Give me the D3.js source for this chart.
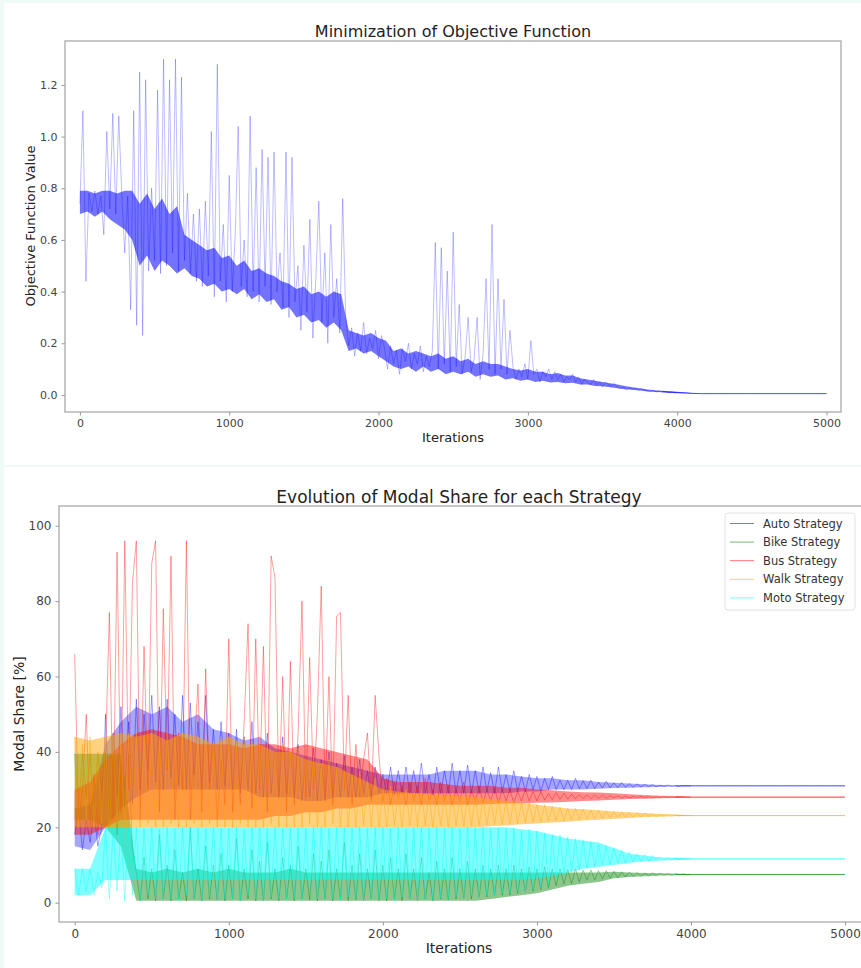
<!DOCTYPE html>
<html>
<head>
<meta charset="utf-8">
<script src="https://cdn.jsdelivr.net/npm/d3@7"></script>
<style>
  body { margin: 0; background: #f0fbf8; }
  svg { display: block; font-family: "DejaVu Sans", sans-serif; }
</style>
</head>
<body>
<svg width="861" height="968"></svg>
<script>
// ---- data ----
var objStep = 20;        // objective trace, one value every 20 iterations (0..4000)
var objBandStep = 50;    // objective dense core, every 50 iterations (0..5000)
var shareStep = 25;      // modal share traces, one value every 25 iterations (0..4000)
var shareBandStep = 100; // modal share dense envelopes, every 100 iterations (0..5000)

var objective = [
  0.74,1.10,0.44,0.78,0.71,0.79,0.70,0.77,0.62,1.02,
  0.72,1.09,0.70,1.08,0.78,0.55,0.77,0.33,1.10,0.27,
  1.25,0.23,1.22,0.48,0.80,0.52,1.18,0.47,1.30,0.50,
  1.22,0.55,1.30,0.48,1.23,0.52,0.78,0.47,0.70,0.44,
  0.72,0.42,0.75,0.46,1.02,0.38,1.28,0.44,0.66,0.36,
  0.85,0.40,0.62,1.04,0.42,0.60,0.38,1.08,0.40,0.88,
  0.36,0.95,0.42,0.92,0.35,0.94,0.40,0.55,0.34,0.94,
  0.30,0.92,0.36,0.50,0.25,0.58,0.32,0.68,0.22,0.45,
  0.75,0.28,0.55,0.20,0.66,0.30,0.45,0.24,0.76,0.30,
  0.19,0.26,0.15,0.24,0.17,0.28,0.16,0.22,0.18,0.25,
  0.14,0.23,0.18,0.10,0.19,0.12,0.17,0.08,0.18,0.13,
  0.20,0.10,0.16,0.12,0.19,0.09,0.15,0.11,0.17,0.59,
  0.10,0.57,0.12,0.48,0.09,0.63,0.11,0.35,0.08,0.15,
  0.30,0.09,0.14,0.30,0.06,0.16,0.45,0.10,0.66,0.08,
  0.45,0.10,0.37,0.08,0.25,0.11,0.06,0.10,0.07,0.12,
  0.06,0.21,0.08,0.10,0.05,0.09,0.07,0.10,0.06,0.09,
  0.06,0.08,0.05,0.07,0.06,0.08,0.05,0.07,0.04,0.06,
  0.05,0.04,0.06,0.04,0.05,0.03,0.05,0.04,0.035,0.045,
  0.03,0.025,0.03,0.02,0.028,0.022,0.026,0.018,0.024,0.02,
  0.016,0.014,0.018,0.012,0.015,0.011,0.013,0.010,0.012,0.009,
  0.010
];
var objLow = [
  0.70,0.71,0.69,0.71,0.68,0.66,0.64,0.60,0.50,0.54,0.48,0.52,0.50,0.47,0.49,0.46,0.45,0.42,0.43,0.40,
  0.41,0.39,0.41,0.37,0.39,0.36,0.37,0.33,0.34,0.30,0.31,0.28,0.29,0.26,0.28,0.25,0.17,0.18,0.16,0.17,
  0.15,0.13,0.11,0.10,0.11,0.09,0.11,0.09,0.10,0.08,0.09,0.08,0.09,0.07,0.08,0.07,0.075,0.06,0.065,0.055,
  0.06,0.05,0.055,0.048,0.05,0.045,0.047,0.04,0.04,0.035,0.034,0.03,0.026,0.022,0.02,0.017,0.013,0.011,0.01,0.008,
  0.007,0.006,0.005,0.004,0.004,0.004,0.004,0.004,0.004,0.004,0.004,0.004,0.004,0.004,0.004,0.004,0.004,0.004,0.004,0.004,0.004
];
var objHigh = [
  0.79,0.79,0.78,0.79,0.79,0.78,0.79,0.79,0.74,0.78,0.72,0.76,0.70,0.73,0.62,0.60,0.58,0.56,0.57,0.53,
  0.54,0.50,0.52,0.48,0.49,0.47,0.46,0.44,0.43,0.41,0.42,0.39,0.40,0.38,0.40,0.39,0.25,0.24,0.23,0.24,
  0.22,0.21,0.17,0.18,0.16,0.17,0.16,0.15,0.16,0.14,0.15,0.13,0.14,0.12,0.13,0.12,0.12,0.11,0.10,0.095,
  0.10,0.09,0.09,0.08,0.085,0.075,0.075,0.065,0.06,0.055,0.05,0.045,0.04,0.035,0.03,0.026,0.021,0.018,0.016,0.014,
  0.012,0.01,0.008,0.006,0.006,0.006,0.006,0.006,0.006,0.006,0.006,0.006,0.006,0.006,0.006,0.006,0.006,0.006,0.006,0.006,0.006
];

var strategies = ["Auto Strategy", "Bike Strategy", "Bus Strategy", "Walk Strategy", "Moto Strategy"];
var colors = ["#0000ff", "#008000", "#ff0000", "#ffa500", "#00ffff"];

var autoShare = [
  18,25,14,22,16,24,15,20,  50,22,45,28,52,30,48,26,
  54,30,50,35,55,32,52,30,  54,33,50,31,55,30,53,34,
  48,30,55,32,46,30,48,31,  45,30,46,29,44,30,48,29,
  42,28,45,29,40,28,44,29,  40,28,42,27,38,28,41,27,
  38,27,40,28,37,28,39,28,  36,28,38,29,35,28,36,29,
  34,29,36,28.5,35,29,36,29,  35,29,37,29,34,28.5,36,29,
  35,29,37,29,35,29,36.5,29,  35,29,36,29.5,34.5,29,36,29.5,
  34,29.5,35,29.5,33.5,29.5,34,30,  33.5,29.5,33,30,33.5,30,32.5,30,
  32.5,30,33,30.2,32.3,30.3,32.5,30.3,  32,30.4,32.2,30.5,31.8,30.5,31.9,30.6,
  31.6,30.6,31.5,30.7,31.4,30.8,31.3,30.8,  31.2,30.9,31.2,30.9,31.1,30.9,31.1,31,
  31
];
var bikeShare = [
  39.5,24,39.5,28,39.5,22,39.5,30,  39.5,20,39.5,18,39.5,25,39.5,14,
  8,0.5,12,1,9,0.5,18,1,  10,0.5,14,1,8,0.5,20,1,
  9,0.5,15,1,10,0.8,13,0.5,  10,1,17,0.5,9,1,14,0.5,
  11,0.5,16,1,9,0.5,12,1,  10,0.5,15,1,9,0.8,13,0.5,
  11,1,14,0.5,9,1,16,0.5,  10,0.8,13,0.5,9,1,14,0.6,
  10,0.5,12,1,9,0.5,13,1,  9,0.6,12,1,8,0.5,11,1,
  9,0.8,12,1,9,1.2,11,1,  9,1.5,10,1.5,9,2,10,2,
  9,2,10,2.5,9,3,9.5,3,  9,3.5,9.5,4,9,4.5,9,5,
  8.8,5,9,5.5,8.6,6,8.7,6,  8.5,6.3,8.5,6.5,8.3,6.6,8.2,6.8,
  8.1,7,8,7,7.9,7.1,7.9,7.2,  7.8,7.3,7.7,7.3,7.7,7.4,7.6,7.4,
  7.5
];
var busShare = [
  66,22,30,50,20,34,18,30,  40,77,22,93,24,96,30,85,
  96,22,68,30,90,96,24,78,  35,92,22,45,30,96,22,40,
  58,24,62,30,42,22,38,26,  70,24,40,26,48,74,25,70,
  30,68,24,92,86,28,60,24,  64,26,45,80,28,65,30,50,
  84,28,60,26,76,77,30,55,  26,42,28,38,45,27,55,39,
  27,33,26,32,28,31,26,32,  27,31,26,33,27,30,26,32,
  27,31,26,30,27,32,26,30,  27,31,26.5,30,27,30.5,26.5,30,
  27,30,26.5,29.5,27,30,27,29.5,  27,29.5,27.2,29,27.3,29.2,27.4,29,
  27.5,28.8,27.5,28.7,27.6,28.6,27.6,28.5,  27.7,28.5,27.7,28.4,27.8,28.3,27.8,28.3,
  27.8,28.2,27.9,28.2,27.9,28.1,27.9,28.1,  27.9,28.1,27.95,28.05,27.95,28.05,28,28,
  28
];
var walkShare = [
  44,20,42,22,44,20,40,21,  44,20,45,21,42,20,45,22,
  45,20,44,21,45,20,43,20,  45,21,44,20,45,20,44,21,
  44,20,45,21,43,20,44,20,  44,20,42,21,44,20,43,20,
  42,20,43,21,40,20,42,20,  40,20,41,20,38,21,39,20,
  37,20,38,21,36,20,35,20,  34,20,35,20.5,32,20,33,20,
  30,20,31,20.5,29,20,30,20.5,  29,20,30,20.5,28.5,20,29,20.5,
  28.5,20,29,20.5,28,20.3,28.5,20.5,  28,20.5,28,20.6,27.5,20.7,27.5,20.8,
  27,21,27.2,21,26.5,21.2,26.5,21.3,  26,21.5,26,21.6,25.5,21.8,25.3,21.8,
  25,22,25,22,24.8,22.2,24.6,22.3,  24.5,22.4,24.3,22.5,24.2,22.6,24,22.7,
  23.9,22.7,23.8,22.8,23.6,22.9,23.5,22.9,  23.4,23,23.4,23,23.3,23,23.2,23.1,
  23.1
];
var motoShare = [
  9,2,9,3,9,2,8,4,  20,1,19.5,3,20,0.5,19.8,2,
  20,0.5,19.7,2,20,1,19.5,0.5,  20,1,19.8,0.5,20,2,19.6,1,
  20,0.5,19.7,1.5,20,0.8,19.8,1,  19.8,1,20,0.5,19.6,2,20,1,
  20,0.5,19.8,1.5,20,1,19.7,0.6,  19.9,1,20,0.5,19.8,2,20,1,
  20,0.8,19.7,1,20,0.5,19.9,1.5,  19.8,1,20,0.6,19.7,1,20,0.8,
  20,1,19.8,0.5,20,1.5,19.7,1,  19.9,0.8,20,1,19.8,0.6,20,1.2,
  19.8,1,20,1.5,19.6,1,20,2,  19.7,1.5,20,2,19.5,2,19.8,2.5,
  19.5,2.5,19.8,3,19,3,19.5,3.5,  19,4,18.5,5,18,6,18,7,
  17.5,8,17,8.5,16.5,9,16,9.5,  15.5,10,15,10.2,14.5,10.5,14,10.6,
  13.5,10.8,13,11,12.8,11,12.5,11.2,  12.2,11.3,12,11.4,11.9,11.5,11.8,11.5,
  11.6
];

// envelopes of the dense part of each share trace (every 100 iterations)
var autoLow = [15,14,20,25,28,30,30,30,30,30, 30,30,28,28,28,27,27,28,28,28,
  29,29,29,29,29,29,29,29,29,29.5, 29.5,30,30,30,30.2,30.4,30.5,30.6,30.7,30.8,
  30.9,30.9,30.9,30.9,30.9,30.9,30.9,30.9,30.9,30.9,30.9];
var autoHigh = [25,26,42,48,52,50,52,48,50,46, 45,43,44,41,40,39,38,37,36,35,
  34,34,34,34,35,35,35,34,34,33.5, 33,33,32.5,32.5,32,31.8,31.6,31.4,31.2,31.1,
  31.1,31.1,31.1,31.1,31.1,31.1,31.1,31.1,31.1,31.1,31.1];
var bikeLow = [22,22,20,15, 0.5,0.5,0.5,0.5,0.5,0.5,0.5,0.5,0.5,0.5,0.5,0.5,0.5,0.5,0.5,0.5,
  0.5,0.5,0.5,0.5,0.5,0.5,0.5, 1,1.5,2,2.5,3.5,4.5,5,5.5,6.5,6.8,7,7.2,7.3,
  7.4,7.4,7.4,7.4,7.4,7.4,7.4,7.4,7.4,7.4,7.4];
var bikeHigh = [39.5,39.5,39.5,39.5, 9,8,9,8,9,8,9,8,8,8,9,8,8,8,8,8,
  8,8,8,8,8,8,8, 8,8,8,8,8,8,8,8,8.2,8,7.9,7.8,7.7,
  7.6,7.6,7.6,7.6,7.6,7.6,7.6,7.6,7.6,7.6,7.6];
var busLow = [18,18,20,22,22,22,22,22,22,22, 22,22,22,23,23,24,24,25,25,26,
  26,26,26,26,26,26,26,26.2,26.3,26.4, 26.5,26.6,26.8,27,27.1,27.3,27.5,27.6,27.7,27.8,
  27.9,27.9,27.9,27.9,27.9,27.9,27.9,27.9,27.9,27.9,27.9];
var busHigh = [30,32,38,42,45,46,45,44,42,42, 42,41,42,42,41,42,41,40,39,38,
  33,32,32,32,31.5,31,31,31,30.5,30.5, 30,29.8,29.5,29.3,29.2,29,28.8,28.6,28.4,28.3,
  28.1,28.1,28.1,28.1,28.1,28.1,28.1,28.1,28.1,28.1,28.1];
var walkLow = [20,20,20,20,20,20,20,20,20,20, 20,20,20,20,20,20,20,20,20,20,
  20,20,20,20,20,20,20, 20.3,20.5,20.8,21,21.3,21.5,21.8,22,22.3,22.5,22.7,22.8,22.9,
  23,23,23,23,23,23,23,23,23,23,23];
var walkHigh = [44,43,44,45,44,45,43,45,44,42, 44,42,42,40,40,38,37,36,34,32,
  30,29.5,29,28.8,28.5,28.3,28,27.5,27,26.5, 26,25.5,25,24.8,24.5,24.2,24,23.8,23.5,23.4,
  23.2,23.2,23.2,23.2,23.2,23.2,23.2,23.2,23.2,23.2,23.2];
var motoLow = [2,2, 6,6,6,6,6,6,6,6,6,6,6,6,6,6,6,6,6,6,6,6,6,6,6,6,6,6,6,
  6,6.5,7,8,9,9.5,10,10.5,11,11.2,11.3,
  11.5,11.5,11.5,11.5,11.5,11.5,11.5,11.5,11.5,11.5,11.5];
var motoHigh = [9,9, 20,20,20,20,20,20,20,20,20,20,20,20,20,20,20,20,20,20,20,20,20,20,20,20,20,20,20,
  19.5,19,18,17,16.5,16,14.5,13,12.5,12,11.9,
  11.7,11.7,11.7,11.7,11.7,11.7,11.7,11.7,11.7,11.7,11.7];

var shareLines = [autoShare, bikeShare, busShare, walkShare, motoShare];
var shareLows = [autoLow, bikeLow, busLow, walkLow, motoLow];
var shareHighs = [autoHigh, bikeHigh, busHigh, walkHigh, motoHigh];

var iterTicks = [0, 1000, 2000, 3000, 4000, 5000];
var objTicks = [0, 0.2, 0.4, 0.6, 0.8, 1.0, 1.2];
var shareTicks = [0, 20, 40, 60, 80, 100];

// ---- page ----
var svg = d3.select("svg");
svg.append("rect").attr("x", 4).attr("y", 3).attr("width", 857).attr("height", 462).attr("fill", "#fff");
svg.append("rect").attr("x", 4).attr("y", 467).attr("width", 857).attr("height", 501).attr("fill", "#fff");

// draws the axes box and returns the scales
function panel(id, left, top, w, h, xDomain, yDomain, yTicks, yFormat, fs) {
  var x = d3.scaleLinear().domain(xDomain).range([0, w]);
  var y = d3.scaleLinear().domain(yDomain).range([h, 0]);
  var g = svg.append("g").attr("transform", "translate(" + left + "," + top + ")");

  g.append("clipPath").attr("id", id)
    .append("rect").attr("width", w).attr("height", h);

  var xa = g.append("g").attr("transform", "translate(0," + h + ")")
    .call(d3.axisBottom(x).tickValues(iterTicks).tickSize(3.5).tickPadding(4).tickFormat(d3.format("d")));
  var ya = g.append("g")
    .call(d3.axisLeft(y).tickValues(yTicks).tickSize(3.5).tickPadding(4).tickFormat(yFormat));
  [xa, ya].forEach(function(a) {
    a.select(".domain").remove();
    a.selectAll("line").attr("stroke", "#999");
    a.selectAll("text").attr("fill", "#444").style("font-size", fs + "px")
      .style("font-family", "'DejaVu Sans', sans-serif");
  });

  var plot = g.append("g").attr("clip-path", "url(#" + id + ")");
  g.append("rect").attr("width", w).attr("height", h)
    .attr("fill", "none").attr("stroke", "#a9a9a9").attr("stroke-width", 1.3);
  return {g: g, plot: plot, x: x, y: y, w: w, h: h};
}

// dense core of a trace, filled between its low and high envelope
function drawBand(p, low, high, step, color, op) {
  var area = d3.area()
    .x(function(d, i) { return p.x(i * step); })
    .y0(function(d, i) { return p.y(low[i]); })
    .y1(function(d, i) { return p.y(high[i]); });
  p.plot.append("path").datum(low).attr("d", area)
    .attr("fill", color).attr("fill-opacity", op).attr("stroke", "none");

  // once converged the envelope collapses to a thin line
  var from = Math.round(3900 / step);
  var tail = d3.line()
    .x(function(d) { return p.x(d * step); })
    .y(function(d) { return p.y((low[d] + high[d]) / 2); });
  p.plot.append("path").datum(d3.range(from, low.length)).attr("d", tail)
    .attr("fill", "none").attr("stroke", color).attr("stroke-opacity", 0.7).attr("stroke-width", 0.8);
}

function drawTrace(p, values, step, color, op, lw) {
  var line = d3.line()
    .x(function(d, i) { return p.x(i * step); })
    .y(function(d) { return p.y(d); });
  p.plot.append("path").datum(values).attr("d", line)
    .attr("fill", "none").attr("stroke", color)
    .attr("stroke-opacity", op).attr("stroke-width", lw)
    .attr("stroke-linejoin", "round");
}

// ---- top: objective function ----
var top1 = panel("clipTop", 65, 41, 776, 371, [-100, 5097], [-0.066, 1.37], objTicks, d3.format(".1f"), 11);
drawBand(top1, objLow, objHigh, objBandStep, "#0000ff", 0.55);
drawTrace(top1, objective, objStep, "#0000ff", 0.35, 0.75);

svg.append("text").attr("x", 453).attr("y", 37).attr("text-anchor", "middle")
  .attr("fill", "#222").style("font-size", "16px").text("Minimization of Objective Function");
svg.append("text").attr("x", 453).attr("y", 442).attr("text-anchor", "middle")
  .attr("fill", "#222").style("font-size", "13px").text("Iterations");
svg.append("text").attr("transform", "translate(35,226) rotate(-90)").attr("text-anchor", "middle")
  .attr("fill", "#222").style("font-size", "13px").text("Objective Function Value");

// ---- bottom: modal share ----
var bot = panel("clipBot", 59, 506, 803, 416, [-102, 5110], [-5.12, 105.23], shareTicks, d3.format("d"), 12);
var bandOpacity = [0.35, 0.45, 0.45, 0.5, 0.5];
strategies.forEach(function(s, k) {
  drawBand(bot, shareLows[k], shareHighs[k], shareBandStep, colors[k], bandOpacity[k]);
  drawTrace(bot, shareLines[k], shareStep, colors[k], 0.5, 0.75);
});

svg.append("text").attr("x", 459).attr("y", 503).attr("text-anchor", "middle")
  .attr("fill", "#222").style("font-size", "17px").text("Evolution of Modal Share for each Strategy");
svg.append("text").attr("x", 459).attr("y", 953).attr("text-anchor", "middle")
  .attr("fill", "#222").style("font-size", "14px").text("Iterations");
svg.append("text").attr("transform", "translate(24,714) rotate(-90)").attr("text-anchor", "middle")
  .attr("fill", "#222").style("font-size", "14px").text("Modal Share [%]");

// legend
var legend = svg.append("g").attr("transform", "translate(725,513)");
legend.append("rect").attr("width", 130).attr("height", 97).attr("rx", 3)
  .attr("fill", "#fff").attr("fill-opacity", 0.85).attr("stroke", "#e2e2e2");
strategies.forEach(function(s, k) {
  var yy = 10.5 + k * 18.6;
  legend.append("line").attr("x1", 5).attr("x2", 29).attr("y1", yy).attr("y2", yy)
    .attr("stroke", colors[k]).attr("stroke-opacity", 0.55).attr("stroke-width", 1);
  legend.append("text").attr("x", 38).attr("y", yy).attr("dy", "0.35em")
    .attr("fill", "#333").style("font-size", "11.5px").text(s);
});
</script>
</body>
</html>
